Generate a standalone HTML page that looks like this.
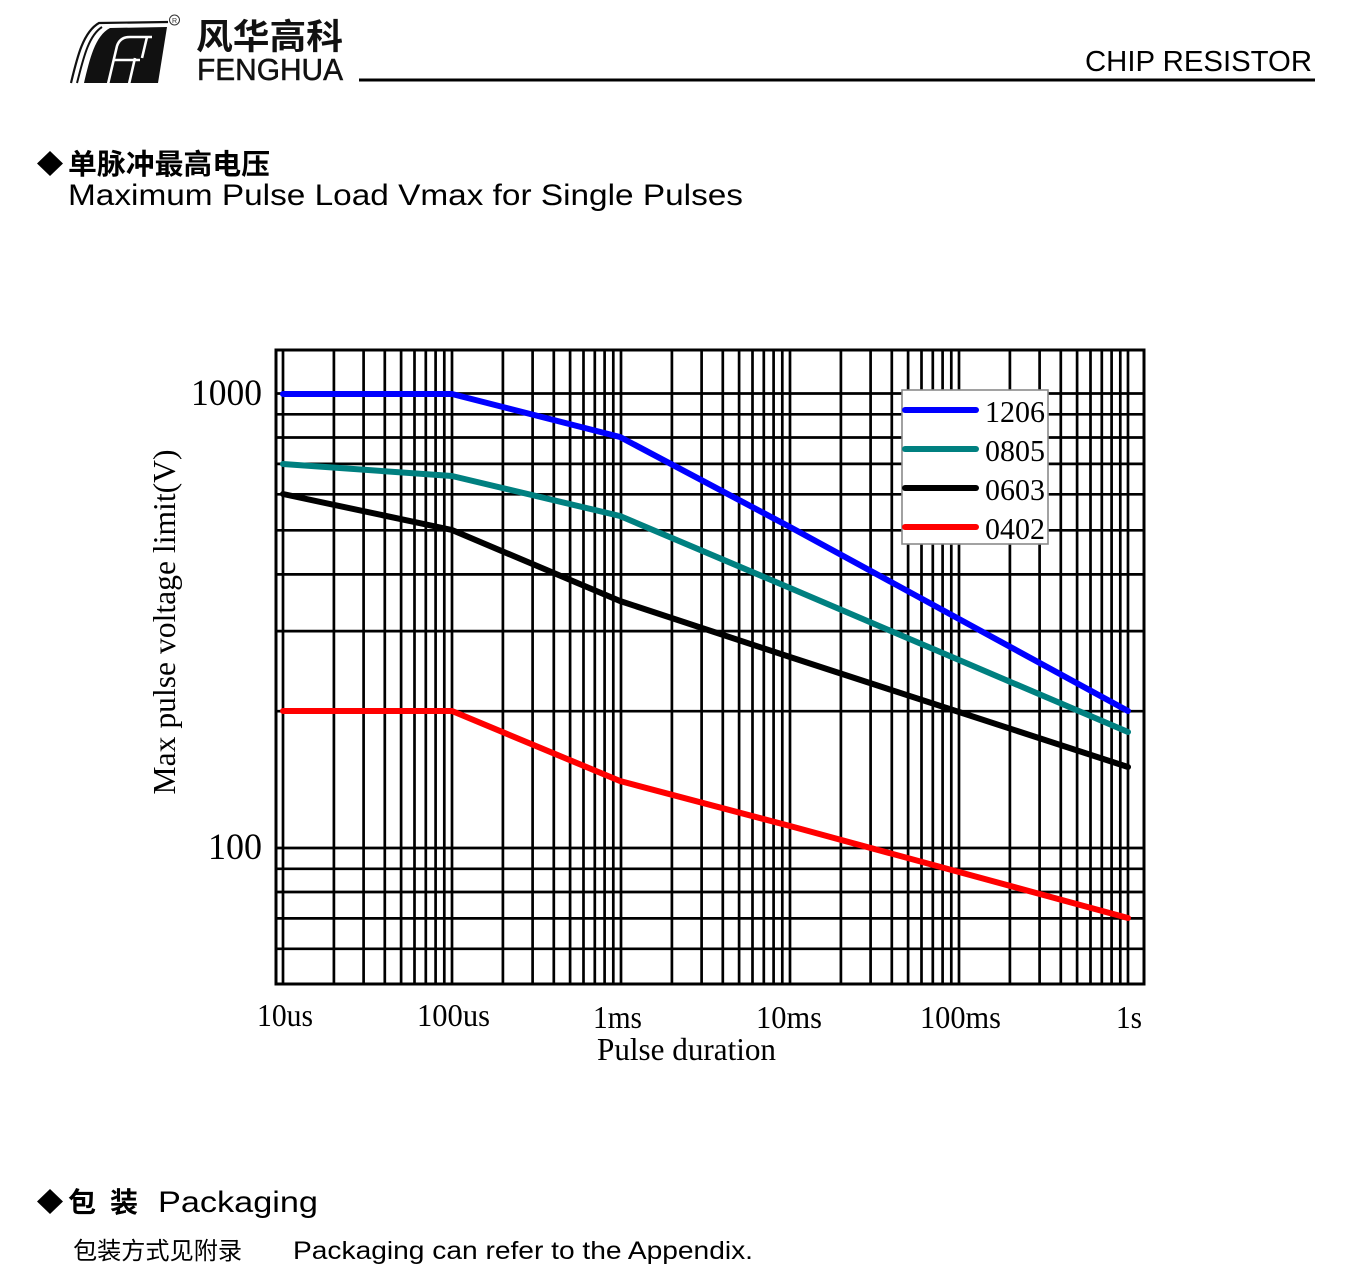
<!DOCTYPE html>
<html>
<head>
<meta charset="utf-8">
<style>
  html,body{margin:0;padding:0;background:#fff;}
  svg{display:block;}
  .serif{font-family:"Liberation Serif","Times New Roman",serif;}
  .sans{font-family:"Liberation Sans",Arial,sans-serif;}
  .cjk{font-family:"Liberation Sans","Noto Sans CJK SC","WenQuanYi Zen Hei",sans-serif;}
</style>
</head>
<body>
<svg width="1369" height="1282" viewBox="0 0 1369 1282" xmlns="http://www.w3.org/2000/svg">
  <rect x="0" y="0" width="1369" height="1282" fill="#fff"/>

  <!-- ===== Header logo ===== -->
  <g>
    <path d="M71 83 C 77 58, 83 32, 99 23 L 168 22" fill="none" stroke="#111" stroke-width="2.2"/>
    <path d="M77 83 C 83 60, 88 36, 102 27" fill="none" stroke="#111" stroke-width="2"/>
    <path d="M84 83 C 90 58, 95 36, 110 28 L 167 27 L 158 83 Z" fill="#111"/>
    <path d="M108 84 L 117 46 Q 120 37 130 37 L 152 37" fill="none" stroke="#fff" stroke-width="2.6"/>
    <path d="M113 60 L 140 60" fill="none" stroke="#fff" stroke-width="2.6"/>
    <path d="M129 84 L 135 58" fill="none" stroke="#fff" stroke-width="2.6"/>
    <path d="M142 58 L 147 37" fill="none" stroke="#fff" stroke-width="2.6"/>
    <circle cx="174.5" cy="20" r="5" fill="none" stroke="#333" stroke-width="1"/>
    <text x="174.5" y="23" font-size="7" text-anchor="middle" class="sans" fill="#333">R</text>
    <text x="196" y="49" font-size="35" font-weight="bold" class="cjk" textLength="147" lengthAdjust="spacingAndGlyphs" fill="#111">风华高科</text>
    <text x="197" y="80" font-size="31" class="sans" textLength="146" lengthAdjust="spacingAndGlyphs" fill="#111" stroke="#111" stroke-width="0.5">FENGHUA</text>
  </g>
  <!-- header rule + title -->
  <rect x="359" y="78.5" width="956" height="3" fill="#000"/>
  <text x="1085" y="71" font-size="28.5" class="sans" textLength="227" lengthAdjust="spacingAndGlyphs" fill="#000">CHIP RESISTOR</text>

  <!-- ===== Section title ===== -->
  <polygon points="50,151 63,163.5 50,176 37,163.5" fill="#000"/>
  <text x="68" y="174" font-size="28.5" font-weight="bold" class="cjk" textLength="202" lengthAdjust="spacingAndGlyphs" fill="#000">单脉冲最高电压</text>
  <text x="68" y="205" font-size="30" class="sans" textLength="675" lengthAdjust="spacingAndGlyphs" fill="#000">Maximum Pulse Load Vmax for Single Pulses</text>

  <!-- ===== Chart ===== -->
  <g stroke="#000" stroke-width="2.7" fill="none">
    <path d="
      M283 350V984 M333.9 350V984 M363.6 350V984 M384.8 350V984 M401.1 350V984 M414.5 350V984 M425.8 350V984 M435.6 350V984 M444.3 350V984
      M452 350V984 M502.9 350V984 M532.6 350V984 M553.8 350V984 M570.1 350V984 M583.5 350V984 M594.8 350V984 M604.6 350V984 M613.3 350V984
      M621 350V984 M671.9 350V984 M701.6 350V984 M722.8 350V984 M739.1 350V984 M752.5 350V984 M763.8 350V984 M773.6 350V984 M782.3 350V984
      M790 350V984 M840.9 350V984 M870.6 350V984 M891.8 350V984 M908.1 350V984 M921.5 350V984 M932.8 350V984 M942.6 350V984 M951.3 350V984
      M959 350V984 M1009.9 350V984 M1039.6 350V984 M1060.8 350V984 M1077.1 350V984 M1090.5 350V984 M1101.8 350V984 M1111.6 350V984 M1120.3 350V984
      M1128 350V984"/>
    <path d="
      M276 393.5H1144 M276 414.3H1144 M276 437.5H1144 M276 463.9H1144 M276 494.3H1144 M276 530.3H1144 M276 574.4H1144 M276 631.1H1144 M276 711.2H1144
      M276 848H1144 M276 868.8H1144 M276 892H1144 M276 918.4H1144 M276 948.8H1144"/>
  </g>
  <rect x="276" y="350" width="868" height="634" fill="none" stroke="#000" stroke-width="3"/>

  <!-- series -->
  <g fill="none" stroke-width="6" stroke-linecap="round" stroke-linejoin="round">
    <polyline stroke="#ff0000" points="283,711 452,711 620,781 790,826 959,872 1128,918"/>
    <polyline stroke="#000000" points="283,494 452,530 620,601 790,657 959,712 1128,767"/>
    <polyline stroke="#008080" points="283,464 452,476 620,516 790,588 959,660 1128,732"/>
    <polyline stroke="#0000ff" points="283,394 452,394 620,437 790,527 959,619 1128,711"/>
  </g>

  <!-- legend -->
  <rect x="902" y="390" width="146" height="154" fill="#fff" stroke="#8a8a8a" stroke-width="1.6"/>
  <g stroke-width="6" stroke-linecap="round">
    <line x1="905" y1="410" x2="976" y2="410" stroke="#0000ff"/>
    <line x1="905" y1="449" x2="976" y2="449" stroke="#008080"/>
    <line x1="905" y1="488" x2="976" y2="488" stroke="#000000"/>
    <line x1="905" y1="527" x2="976" y2="527" stroke="#ff0000"/>
  </g>
  <g class="serif" font-size="31" fill="#000">
    <text x="985" y="422" textLength="60" lengthAdjust="spacingAndGlyphs">1206</text>
    <text x="985" y="461" textLength="60" lengthAdjust="spacingAndGlyphs">0805</text>
    <text x="985" y="500" textLength="60" lengthAdjust="spacingAndGlyphs">0603</text>
    <text x="985" y="539" textLength="60" lengthAdjust="spacingAndGlyphs">0402</text>
  </g>

  <!-- y tick labels -->
  <g class="serif" fill="#000">
    <text x="191" y="405" font-size="37" textLength="71" lengthAdjust="spacingAndGlyphs">1000</text>
    <text x="208" y="859" font-size="37" textLength="54" lengthAdjust="spacingAndGlyphs">100</text>
  </g>
  <text class="serif" font-size="32" fill="#000" text-anchor="middle" transform="translate(175,622) rotate(-90)" textLength="345" lengthAdjust="spacingAndGlyphs">Max pulse voltage limit(V)</text>

  <!-- x tick labels -->
  <g class="serif" font-size="32" fill="#000">
    <text x="257" y="1026" textLength="56" lengthAdjust="spacingAndGlyphs">10us</text>
    <text x="417" y="1026" textLength="73" lengthAdjust="spacingAndGlyphs">100us</text>
    <text x="593" y="1028" textLength="49" lengthAdjust="spacingAndGlyphs">1ms</text>
    <text x="756" y="1028" textLength="66" lengthAdjust="spacingAndGlyphs">10ms</text>
    <text x="920" y="1028" textLength="81" lengthAdjust="spacingAndGlyphs">100ms</text>
    <text x="1116" y="1028" textLength="26" lengthAdjust="spacingAndGlyphs">1s</text>
    <text x="597" y="1060" textLength="179" lengthAdjust="spacingAndGlyphs">Pulse duration</text>
  </g>

  <!-- ===== Packaging ===== -->
  <polygon points="50,1189 63,1201.5 50,1214 37,1201.5" fill="#000"/>
  <text x="68" y="1212" font-size="28" font-weight="bold" class="cjk" fill="#000">包</text>
  <text x="110" y="1212" font-size="28" font-weight="bold" class="cjk" fill="#000">装</text>
  <text x="158" y="1212" font-size="30" class="sans" textLength="160" lengthAdjust="spacingAndGlyphs" fill="#000">Packaging</text>

  <text x="73" y="1259" font-size="24" class="cjk" textLength="169" lengthAdjust="spacingAndGlyphs" fill="#000">包装方式见附录</text>
  <text x="293" y="1259" font-size="25" class="sans" textLength="460" lengthAdjust="spacingAndGlyphs" fill="#000">Packaging can refer to the Appendix.</text>
</svg>
</body>
</html>
